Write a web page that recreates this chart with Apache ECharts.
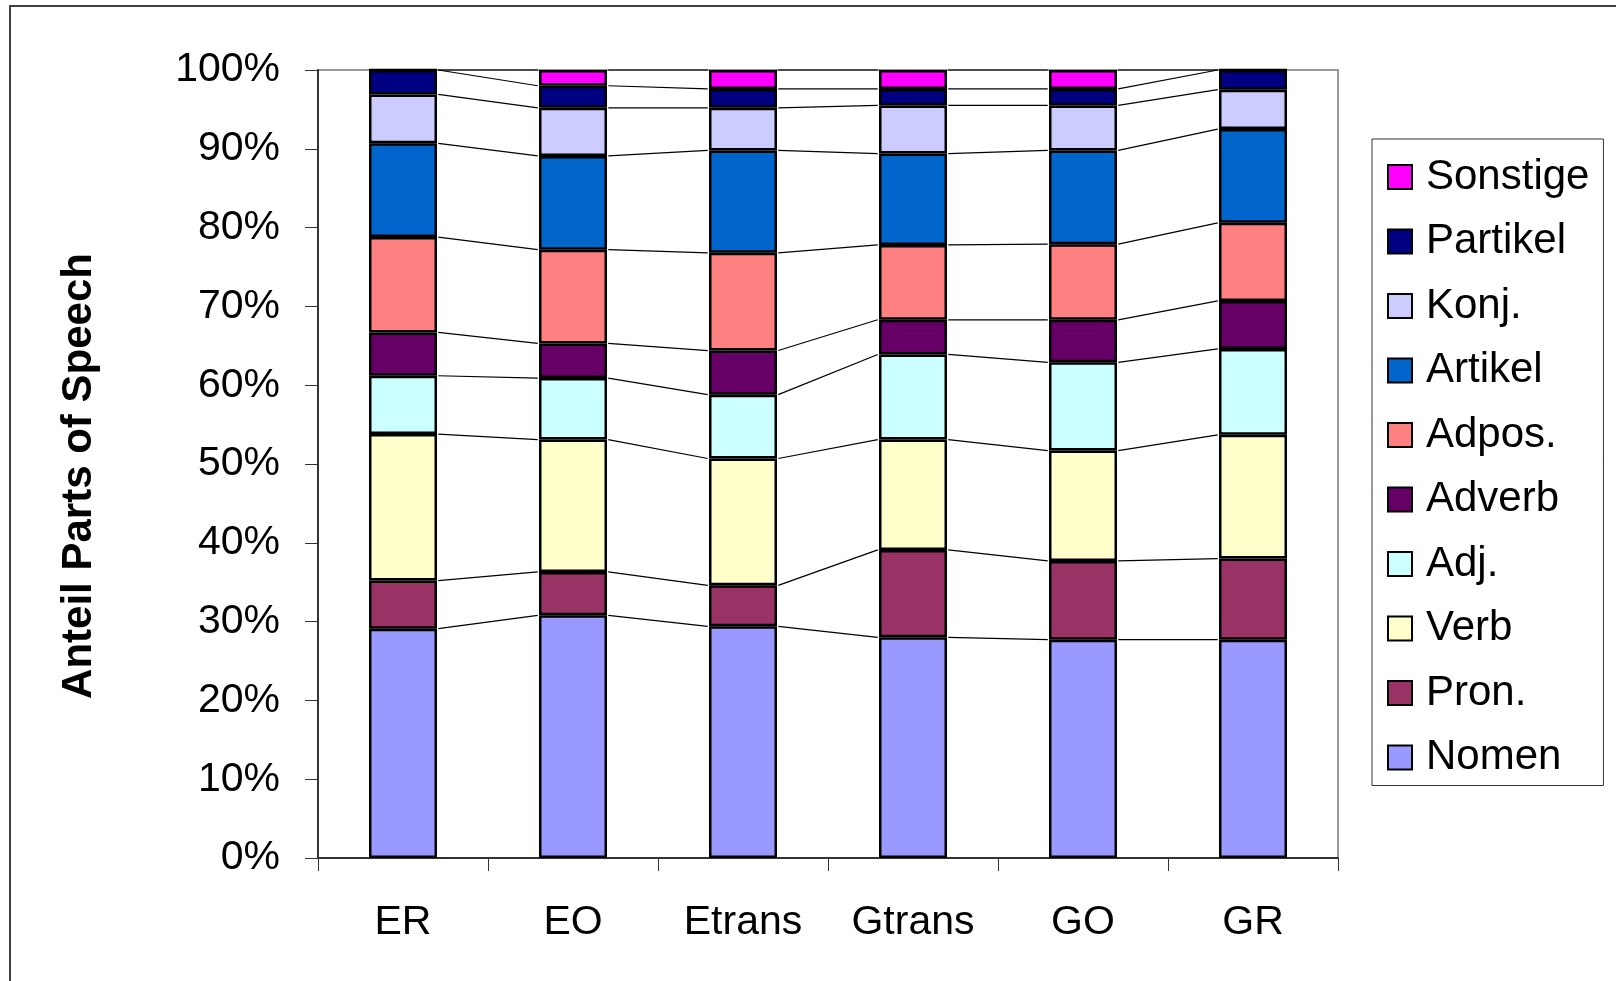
<!DOCTYPE html>
<html>
<head>
<meta charset="utf-8">
<title>Anteil Parts of Speech</title>
<script src="https://cdn.jsdelivr.net/npm/echarts@6.0.0/dist/echarts.min.js"></script>
<style>
  html, body { margin: 0; padding: 0; background: #ffffff; }
  #chart { width: 1616px; height: 981px; }
</style>
</head>
<body>
<div id="chart"></div>
<script>
// Corpora on the x axis
const categories = ['ER', 'EO', 'Etrans', 'Gtrans', 'GO', 'GR'];

// Share of each part of speech per corpus (percent)
const nomen    = [29.1, 30.8, 29.4, 28.0, 27.7, 27.7];
const pron     = [6.1, 5.5, 5.2, 11.1, 10.0, 10.3];
const verb     = [18.6, 16.8, 16.1, 14.0, 14.0, 15.7];
const adj      = [7.4, 7.8, 8.1, 10.8, 11.2, 10.9];
const adverb   = [5.5, 4.4, 5.6, 4.4, 5.4, 6.1];
const adpos    = [12.1, 11.9, 12.4, 9.5, 9.6, 9.9];
const artikel  = [11.9, 11.9, 13.0, 11.6, 11.9, 11.9];
const konj     = [6.2, 6.1, 5.4, 6.1, 5.7, 5.0];
const partikel = [3.1, 2.8, 2.4, 2.1, 2.1, 2.5];
const sonstige = [0, 2.0, 2.4, 2.4, 2.4, 0];

// Y axis tick values
const yTicks = [0, 10, 20, 30, 40, 50, 60, 70, 80, 90, 100];

const seriesDefs = [
  { name: 'Nomen',    data: nomen,    color: '#9999FF' },
  { name: 'Pron.',    data: pron,     color: '#993366' },
  { name: 'Verb',     data: verb,     color: '#FFFFCC' },
  { name: 'Adj.',     data: adj,      color: '#CCFFFF' },
  { name: 'Adverb',   data: adverb,   color: '#660066' },
  { name: 'Adpos.',   data: adpos,    color: '#FF8080' },
  { name: 'Artikel',  data: artikel,  color: '#0066CC' },
  { name: 'Konj.',    data: konj,     color: '#CCCCFF' },
  { name: 'Partikel', data: partikel, color: '#000080' },
  { name: 'Sonstige', data: sonstige, color: '#FF00FF' }
];

const BAR_W = 68;
const BAR_BORDER = 2.5;
const FONT = '"Liberation Sans", Arial, sans-serif';

// Series lines: join the top of every segment to the same segment in the next column
const cumulative = categories.map(() => 0);
const seriesLineData = [];
seriesDefs.forEach(def => {
  const tops = def.data.map((v, i) => (cumulative[i] += v));
  for (let i = 0; i < categories.length - 1; i++) {
    seriesLineData.push([i, tops[i], tops[i + 1]]);
  }
});

const barSeries = seriesDefs.map(def => ({
  name: def.name,
  type: 'bar',
  stack: 'total',
  barWidth: BAR_W,
  data: def.data,
  itemStyle: { color: def.color, borderColor: '#000000', borderWidth: BAR_BORDER },
  emphasis: { disabled: true }
}));

const lineSeries = {
  type: 'custom',
  name: 'seriesLines',
  data: seriesLineData,
  z: 1,
  silent: true,
  renderItem: function (params, api) {
    const i = api.value(0);
    const a = api.coord([i, api.value(1)]);
    const b = api.coord([i + 1, api.value(2)]);
    const half = BAR_W / 2 + BAR_BORDER / 2;
    return {
      type: 'line',
      shape: { x1: a[0] + half, y1: a[1], x2: b[0] - half, y2: b[1] },
      style: { stroke: '#000000', lineWidth: 1.2 }
    };
  }
};

const chart = echarts.init(document.getElementById('chart'), null, { renderer: 'canvas' });

chart.setOption({
  animation: false,
  backgroundColor: '#ffffff',
  textStyle: { fontFamily: FONT },
  grid: {
    left: 318, top: 70, right: 278, bottom: 123,
    show: true, borderColor: '#999999', borderWidth: 2, backgroundColor: 'transparent'
  },
  legend: {
    orient: 'vertical',
    left: 1372,
    top: 139,
    data: seriesDefs.map(d => d.name).reverse(),
    icon: 'rect',
    itemWidth: 24,
    itemHeight: 24,
    itemGap: 22.5,
    padding: [17, 14, 7, 15],
    borderColor: '#333333',
    borderWidth: 1,
    selectedMode: false,
    textStyle: { fontSize: 42, lineHeight: 42, color: '#000000', fontFamily: FONT, padding: [0, 0, 0, 9] }
  },
  xAxis: {
    type: 'category',
    data: categories,
    axisLine: { lineStyle: { color: '#333333', width: 2 } },
    axisTick: { show: true, length: 13, lineStyle: { color: '#333333', width: 1 } },
    axisLabel: { fontSize: 41, color: '#000000', margin: 44, fontFamily: FONT }
  },
  yAxis: {
    type: 'value',
    min: yTicks[0],
    max: yTicks[yTicks.length - 1],
    interval: yTicks[1] - yTicks[0],
    axisLine: { show: true, lineStyle: { color: '#333333', width: 2 } },
    axisTick: { show: true, length: 13, lineStyle: { color: '#333333', width: 1 } },
    splitLine: { show: false },
    axisLabel: { fontSize: 41, color: '#000000', margin: 38, formatter: '{value}%', fontFamily: FONT }
  },
  graphic: [
    {
      type: 'rect',
      silent: true,
      shape: { x: 10, y: 6, width: 1700, height: 1100 },
      style: { fill: 'none', stroke: '#404040', lineWidth: 2 }
    },
    {
      type: 'text',
      silent: true,
      x: 79,
      y: 476,
      rotation: Math.PI / 2,
      style: {
        text: 'Anteil Parts of Speech',
        font: 'bold 42px ' + FONT,
        fill: '#000000',
        align: 'center',
        verticalAlign: 'middle'
      }
    }
  ],
  series: barSeries.concat([lineSeries])
});
</script>
</body>
</html>
